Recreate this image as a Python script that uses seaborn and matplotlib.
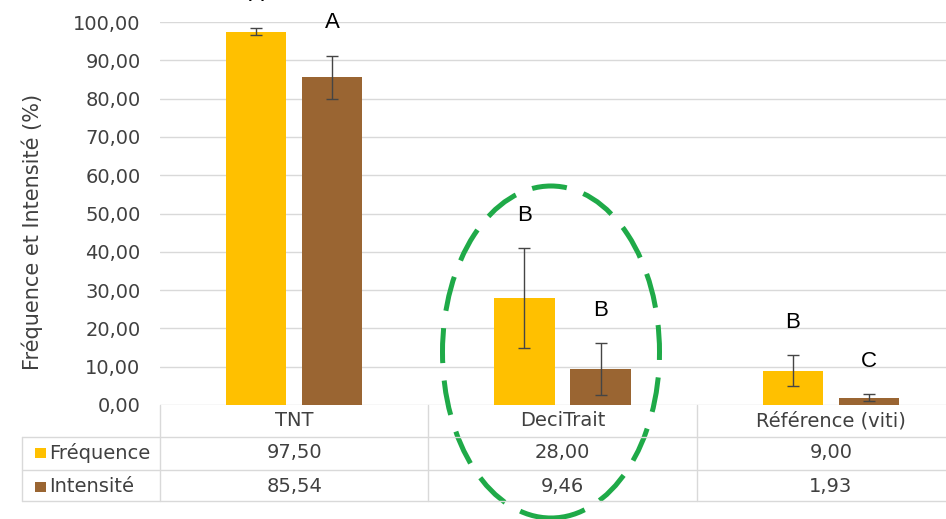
import matplotlib
matplotlib.use("Agg")
import matplotlib.pyplot as plt
import matplotlib.transforms as mtransforms
from matplotlib.patches import Ellipse, Rectangle
from matplotlib.lines import Line2D
import seaborn as sns
import pandas as pd

# ---------------- data ----------------
categories = ["TNT", "DeciTrait", "Référence (viti)"]
series = ["Fréquence", "Intensité"]
frequence = [97.50, 28.00, 9.00]
intensite = [85.54, 9.46, 1.93]
err_frequence = [1.0, 13.0, 4.0]
err_intensite = [5.7, 6.8, 1.0]
letters_frequence = ["A", "B", "B"]
letters_intensite = ["A", "B", "C"]
yticks = [0, 10, 20, 30, 40, 50, 60, 70, 80, 90, 100]
ylabel = "Fréquence et Intensité (%)"

colors = {"Fréquence": "#FFC000", "Intensité": "#9A6532"}

df = pd.DataFrame({
    "cat": categories * 2,
    "series": [series[0]] * 3 + [series[1]] * 3,
    "val": frequence + intensite,
})

sns.set_theme(style="white")
plt.rcParams["font.family"] = ["DejaVu Sans"]

W, H = 946, 519
fig = plt.figure(figsize=(W / 100, H / 100), dpi=100)
fig.patch.set_facecolor("white")

def fx(px):
    return px / W

def fy(py):
    return 1 - py / H

ax = fig.add_axes([fx(160), fy(405), (965 - 160) / W, (405 - 22) / H])
sns.barplot(data=df, x="cat", y="val", hue="series", order=categories,
            hue_order=series, palette=colors, width=0.567, gap=0.21,
            saturation=1, errorbar=None, legend=False, linewidth=0, ax=ax)

ax.set_xlim(-0.5, 2.5)
ax.set_ylim(0, 100)
ax.set_yticks(yticks)
ax.set_yticklabels([f"{v:.2f}".replace(".", ",") for v in yticks],
                   fontsize=14, color="#404040")
ax.tick_params(axis="y", length=0, pad=14)
ax.set_xticks([])
ax.set_xlabel("")
ax.set_ylabel("")
for s in ax.spines.values():
    s.set_visible(False)
ax.grid(axis="y", color="#D9D9D9", linewidth=1)
ax.set_axisbelow(True)

fig.text(fx(32), fy(232), ylabel, rotation=90, ha="center", va="center",
         fontsize=15, color="#404040")

errs = [err_frequence, err_intensite]
letters = [letters_frequence, letters_intensite]
bar_containers = list(ax.containers)
for si, cont in enumerate(bar_containers):
    for ci, bar in enumerate(cont.patches):
        x = bar.get_x() + bar.get_width() / 2
        h = bar.get_height()
        e = errs[si][ci]
        ax.errorbar(x, h, yerr=e, fmt="none", ecolor="#454545",
                    elinewidth=1, capsize=4, capthick=1)
        ax.text(x, h + e + 8.5, letters[si][ci], ha="center", va="center",
                fontsize=16, family=["Liberation Sans"], color="black",
                clip_on=False)

# ---------------- data table ----------------
blend = mtransforms.blended_transform_factory(ax.transData, fig.transFigure)
grid_c = "#D9D9D9"
line_kw = dict(color=grid_c, linewidth=1)

for py in [437, 470, 501]:
    fig.add_artist(Line2D([fx(22), 1.0], [fy(py), fy(py)], transform=fig.transFigure, **line_kw))
fig.add_artist(Line2D([fx(22), fx(22)], [fy(437), fy(501)], transform=fig.transFigure, **line_kw))
for xd in [-0.5, 0.5, 1.5]:
    fig.add_artist(Line2D([xd, xd], [fy(405), fy(501)], transform=blend, **line_kw))

for i, c in enumerate(categories):
    fig.text(i, fy(421), c, transform=blend, ha="center", va="center",
             fontsize=14, color="#404040")
    fig.text(i, fy(453), f"{frequence[i]:.2f}".replace(".", ","), transform=blend,
             ha="center", va="center", fontsize=14, color="#404040")
    fig.text(i, fy(487), f"{intensite[i]:.2f}".replace(".", ","), transform=blend,
             ha="center", va="center", fontsize=14, color="#404040")

for name, py in zip(series, [453, 487]):
    fig.add_artist(Rectangle((fx(35), fy(py + 5)), 11 / W, 10 / H,
                             transform=fig.transFigure, facecolor=colors[name],
                             edgecolor="none"))
    fig.text(fx(49), fy(py), name, ha="left", va="center", fontsize=14,
             color="#404040")

# ---------------- green dashed ellipse ----------------
fig.add_artist(Ellipse((fx(551), fy(352)), 217 / W, 332 / H,
                       transform=fig.transFigure, fill=False,
                       edgecolor="#1FAA48", linewidth=3.6,
                       linestyle=(0, (7, 3.5))))

fig.savefig("out.png", dpi=100)
